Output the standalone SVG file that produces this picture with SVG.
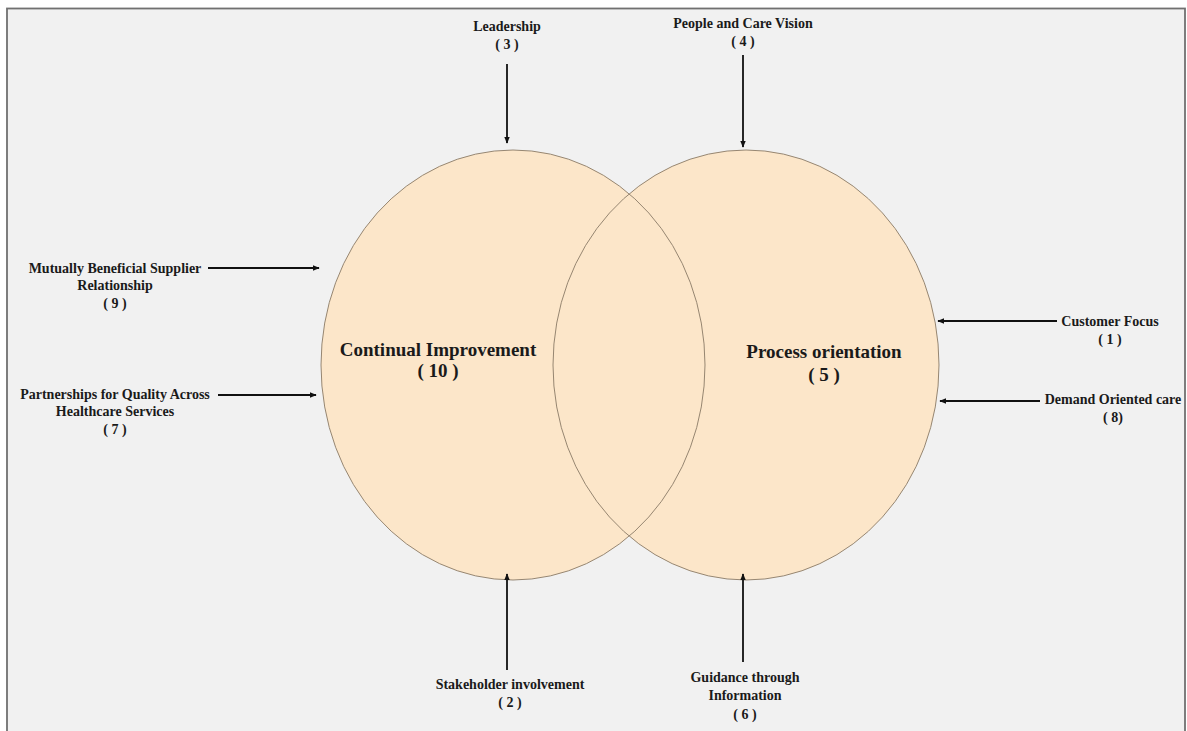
<svg xmlns="http://www.w3.org/2000/svg" width="1187" height="731" viewBox="0 0 1187 731">
  <style>
    .lbl { font-family: "Liberation Serif", "Times New Roman", serif; font-weight: bold; font-size: 14px; fill: #1a1a1a; text-anchor: middle; }
    .main { font-family: "Liberation Serif", "Times New Roman", serif; font-weight: bold; font-size: 19px; fill: #1a1a1a; text-anchor: middle; }
    .ring { fill: #fce6c9; }
    .edge { fill: none; stroke: #8a7a66; stroke-width: 0.9; }
    .conn { stroke: #111; stroke-width: 1.8; fill: none; marker-end: url(#head); }
  </style>
  <defs>
    <marker id="head" viewBox="0 0 10 10" refX="9" refY="5" markerWidth="4" markerHeight="4" orient="auto" markerUnits="strokeWidth">
      <path d="M0,1 L10,5 L0,9 z" fill="#111"/>
    </marker>
  </defs>

  <!-- page background and frame -->
  <rect x="0" y="0" width="1187" height="731" fill="#ffffff"/>
  <rect x="7" y="8.5" width="1178" height="740" fill="#f1f1f1" stroke="#707070" stroke-width="1.8"/>

  <!-- the two overlapping principles -->
  <g id="continual-improvement">
    <ellipse class="ring" cx="513" cy="365" rx="192" ry="215"/>
  </g>
  <g id="process-orientation">
    <ellipse class="ring" cx="746" cy="365" rx="193" ry="215"/>
  </g>
  <g id="outlines">
    <ellipse class="edge" cx="513" cy="365" rx="192" ry="215"/>
    <ellipse class="edge" cx="746" cy="365" rx="193" ry="215"/>
  </g>
  <g id="center-labels">
    <text class="main" x="438" y="356">Continual Improvement</text>
    <text class="main" x="438" y="377">( 10 )</text>
    <text class="main" x="824" y="358">Process orientation</text>
    <text class="main" x="824" y="381">( 5 )</text>
  </g>

  <!-- outer principles -->
  <g id="leadership">
    <text class="lbl" x="507" y="31">Leadership</text>
    <text class="lbl" x="507" y="49">( 3 )</text>
  </g>
  <g id="people-care-vision">
    <text class="lbl" x="743" y="28">People and Care Vision</text>
    <text class="lbl" x="743" y="46">( 4 )</text>
  </g>
  <g id="supplier-relationship">
    <text class="lbl" x="115" y="273">Mutually Beneficial Supplier</text>
    <text class="lbl" x="115" y="290">Relationship</text>
    <text class="lbl" x="115" y="308">( 9 )</text>
  </g>
  <g id="partnerships">
    <text class="lbl" x="115" y="399">Partnerships for Quality Across</text>
    <text class="lbl" x="115" y="416">Healthcare Services</text>
    <text class="lbl" x="115" y="434">( 7 )</text>
  </g>
  <g id="customer-focus">
    <text class="lbl" x="1110" y="326">Customer Focus</text>
    <text class="lbl" x="1110" y="344">( 1 )</text>
  </g>
  <g id="demand-oriented-care">
    <text class="lbl" x="1113" y="404">Demand Oriented care</text>
    <text class="lbl" x="1113" y="422">( 8)</text>
  </g>
  <g id="stakeholder-involvement">
    <text class="lbl" x="510" y="689">Stakeholder involvement</text>
    <text class="lbl" x="510" y="707">( 2 )</text>
  </g>
  <g id="guidance-information">
    <text class="lbl" x="745" y="682">Guidance through</text>
    <text class="lbl" x="745" y="700">Information</text>
    <text class="lbl" x="745" y="719">( 6 )</text>
  </g>

  <!-- connectors -->
  <g id="connectors">
    <line class="conn" x1="507" y1="64" x2="507" y2="143"/>
    <line class="conn" x1="743" y1="55" x2="743" y2="147"/>
    <line class="conn" x1="507" y1="670" x2="507" y2="574"/>
    <line class="conn" x1="743" y1="662" x2="743" y2="574"/>
    <line class="conn" x1="208" y1="268" x2="319" y2="268"/>
    <line class="conn" x1="218" y1="395" x2="316" y2="395"/>
    <line class="conn" x1="1057" y1="321" x2="938" y2="321"/>
    <line class="conn" x1="1040" y1="401" x2="940" y2="401"/>
  </g>
</svg>
